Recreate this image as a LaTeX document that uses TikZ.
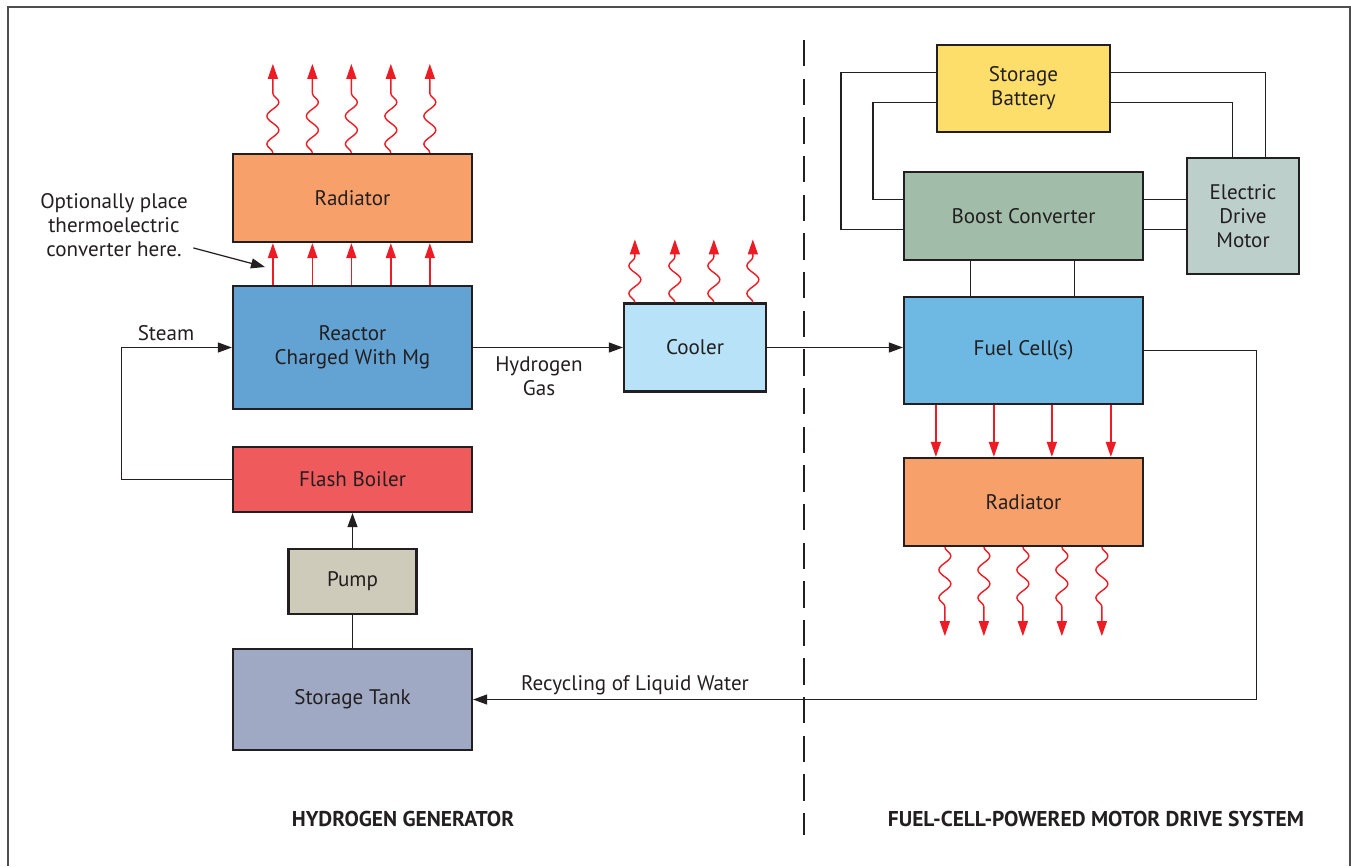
\documentclass[tikz,border=0pt]{standalone}
\usepackage{fontspec}
\setsansfont{PT Sans}
\usetikzlibrary{arrows.meta,decorations.pathmorphing}

\definecolor{ink}{HTML}{231F20}
\definecolor{heatred}{HTML}{ED1C24}
\definecolor{radorange}{HTML}{F7A06A}
\definecolor{reactorblue}{HTML}{62A3D3}
\definecolor{boilerred}{HTML}{EF5A5C}
\definecolor{pumpgrey}{HTML}{CECBBB}
\definecolor{tankblue}{HTML}{A0A9C3}
\definecolor{coolerblue}{HTML}{B8E2F7}
\definecolor{cellblue}{HTML}{6EB8E4}
\definecolor{boostgreen}{HTML}{A1BDAA}
\definecolor{battyellow}{HTML}{FEDE6A}
\definecolor{motorgrey}{HTML}{BDCFCB}

\begin{document}
\begin{tikzpicture}[x=0.02cm,y=-0.02cm,font=\sffamily\fontsize{12}{13.5}\selectfont,
  box/.style={draw=ink,line width=1.3pt,inner sep=0pt,align=center,text=ink},
  wire/.style={draw=ink,line width=0.7pt},
  flow/.style={wire,-{Triangle[length=2.8mm,width=2mm]}},
  heat/.style={draw=heatred,line width=0.8pt,-{Triangle[length=3mm,width=2mm]}},
  wavy/.style={decorate,decoration={snake,amplitude=1.2mm,segment length=5.6mm,post length=3.4mm}},
  label/.style={text=ink,align=center,inner sep=0pt},
  title/.style={label,font=\sffamily\bfseries\fontsize{12.2}{14}\selectfont}]
\useasboundingbox (0,0) rectangle (1351,866);
\draw[draw=ink!80,line width=1.1pt] (8,866) -- (8,7) -- (1350,7) -- (1350,866);
\draw[draw=ink,line width=1.1pt,dash pattern=on 15pt off 7pt] (804,40) -- (804,835);

\node[box,fill=radorange,minimum width=4.78cm,minimum height=1.76cm] (rad1) at (352.5,198) {Radiator};
\node[box,fill=reactorblue,minimum width=4.78cm,minimum height=2.46cm] (reactor) at (352.5,347.5) {Reactor\\Charged With Mg};
\node[box,fill=boilerred,minimum width=4.78cm,minimum height=1.3cm] (boiler) at (352.5,479.5) {Flash Boiler};
\node[box,fill=pumpgrey,minimum width=2.56cm,minimum height=1.3cm] (pump) at (352.5,581.5) {Pump};
\node[box,fill=tankblue,minimum width=4.78cm,minimum height=2.02cm] (tank) at (352.5,699.5) {Storage Tank};
\node[box,fill=coolerblue,minimum width=2.84cm,minimum height=1.76cm] (cooler) at (695,347.5) {Cooler};
\node[box,fill=battyellow,minimum width=3.46cm,minimum height=1.74cm] (batt) at (1023.5,88.5) {Storage\\Battery};
\node[box,fill=boostgreen,minimum width=4.78cm,minimum height=1.76cm] (boost) at (1023.5,216) {Boost Converter};
\node[box,fill=motorgrey,minimum width=2.24cm,minimum height=2.32cm] (motor) at (1243,216) {Electric\\Drive\\Motor};
\node[box,fill=cellblue,minimum width=4.78cm,minimum height=2.14cm] (fuel) at (1023.5,350.5) {Fuel Cell(s)};
\node[box,fill=radorange,minimum width=4.78cm,minimum height=1.76cm] (rad2) at (1023.5,502) {Radiator};

\node[label] (note) at (114,225) {Optionally place\\thermoelectric\\converter here.};
\node[label] (steam) at (166,333) {Steam};
\node[label] (gas) at (539,376) {Hydrogen\\Gas};
\node[label] (recycle) at (635,685) {Recycling of Liquid Water};
\node[title] (hgen) at (403,819) {HYDROGEN GENERATOR};
\node[title] (drive) at (1096,819) {FUEL-CELL-POWERED MOTOR DRIVE SYSTEM};

\coordinate (slot) at (265,267);
\coordinate (w1) at ([yshift=-0.58cm]boost.north east);
\coordinate (w2) at ([yshift=-1.18cm]boost.north east);

\foreach \dx in {0.82,1.61,2.39,3.18,3.96} {
  \draw[heat] ([xshift=\dx cm]reactor.north west) -- ([xshift=\dx cm]rad1.south west);
  \draw[heat,wavy] ([xshift=\dx cm]rad1.north west) -- ++(0,-89);
}
\foreach \dx in {0.24,1.04,1.82,2.60}
  \draw[heat,wavy] ([xshift=\dx cm]cooler.north west) -- ++(0,-63);
\foreach \dx in {0.66,1.82,2.98,4.16}
  \draw[heat] ([xshift=\dx cm]fuel.south west) -- ([xshift=\dx cm]rad2.north west);
\foreach \dx in {0.84,1.62,2.40,3.18,3.98}
  \draw[heat,wavy] ([xshift=\dx cm]rad2.south west) -- ++(0,89);

\draw[flow] ([xshift=3pt,yshift=5pt]note.south east) -- (slot);
\draw[flow] (boiler.west) -- ++(-110,0) |- (reactor.west);
\draw[flow] (reactor.east) -- (cooler.west);
\draw[flow] (cooler.east) -- (cooler.east -| fuel.west);
\draw[flow] (fuel.east) -- ++(112,0) |- (tank.east);
\draw[wire] (tank.north) -- (pump.south);
\draw[flow] (pump.north) -- (boiler.south);

\draw[wire] ([xshift=1.36cm]boost.south west) -- ([xshift=1.36cm]fuel.north west);
\draw[wire] ([xshift=3.44cm]boost.south west) -- ([xshift=3.44cm]fuel.north west);
\draw[wire] ([yshift=-0.58cm]batt.north west) -- ++(-95,0) |- ([yshift=-1.18cm]boost.north west);
\draw[wire] ([yshift=-1.18cm]batt.north west) -- ++(-63,0) |- ([yshift=-0.58cm]boost.north west);
\draw[wire] ([yshift=-0.58cm]batt.north east) -| ([xshift=1.6cm]motor.north west);
\draw[wire] ([yshift=-1.18cm]batt.north east) -| ([xshift=0.94cm]motor.north west);
\draw[wire] (w1) -- (w1 -| motor.west);
\draw[wire] (w2) -- (w2 -| motor.west);
\end{tikzpicture}
\end{document}
